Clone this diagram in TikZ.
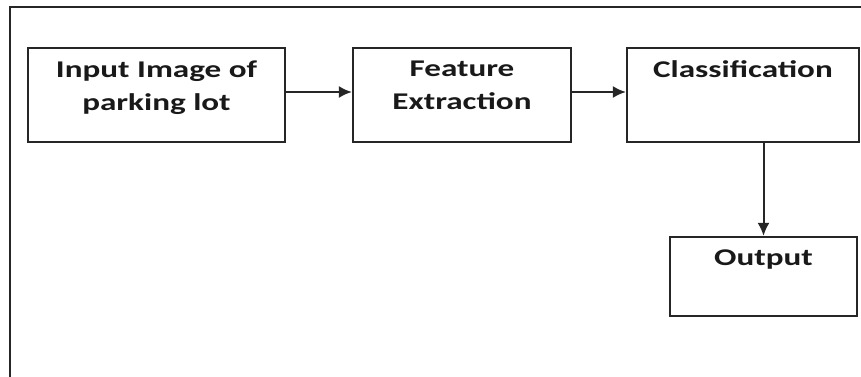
\documentclass[tikz,border=0pt]{standalone}
\usepackage{fontspec}
\setmainfont{Carlito}[FakeStretch=1.38]
\usetikzlibrary{positioning,arrows.meta}
\tikzset{
    flow-box/.style = {draw=black!85, line width=2.2pt, rectangle, inner sep=0pt},
    flow-text/.style = {font=\fontsize{24}{33}\selectfont\bfseries, align=center, inner sep=0pt, text=black!90},
    flow-arrow/.style = {draw=black!85, line width=2pt, -{Latex[length=13pt,width=12pt]}},
}
\begin{document}
\begin{tikzpicture}[x=1pt, y=1pt]
\useasboundingbox (0,0) rectangle (861,376);
\clip (0,0) rectangle (861,376);
\draw[black!85, line width=2.4pt] (10,-20) -- (10,369) -- (880,369);

\node[flow-box, minimum width=257pt, minimum height=94pt] (input) at (156.5,281) {};
\node[flow-box, minimum width=218pt, minimum height=94pt] (feature) at (462,281) {};
\node[flow-box, minimum width=232pt, minimum height=94pt] (class) at (743,281) {};
\node[flow-box, minimum width=187pt, minimum height=79pt] (output) at (763.5,99.5) {};

\node[flow-text, below=14pt of input.north] (input-text) {Input Image of\\parking lot};
\node[flow-text, below=14pt of feature.north] (feature-text) {Feature\\Extraction};
\node[flow-text, below=14pt of class.north] (class-text) {Classification};
\node[flow-text, below=14pt of output.north] (output-text) {Output};

\draw[flow-arrow] ([yshift=3pt]input.east) -- ([yshift=3pt]feature.west);
\draw[flow-arrow] ([yshift=3pt]feature.east) -- ([yshift=3pt]class.west);
\draw[flow-arrow] (output.north |- class.south) -- (output.north);
\end{tikzpicture}
\end{document}
